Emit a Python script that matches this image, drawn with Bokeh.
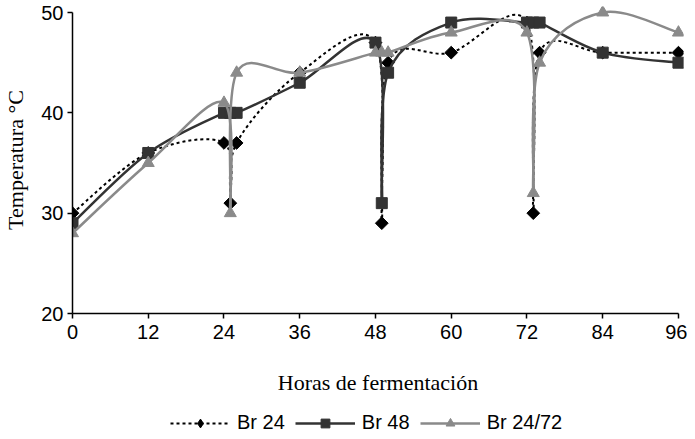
import numpy as np
from bokeh.plotting import figure
from bokeh.layouts import column
from bokeh.models import ColumnDataSource, Legend, LegendItem, FixedTicker, Range1d
from bokeh.embed import file_html
from bokeh.resources import INLINE

# ---- data ----
hours = [0, 12, 24, 25, 26, 36, 48, 49, 50, 60, 72, 73, 74, 84, 96]
br24 = [30, 36, 37, 31, 37, 44, 47, 29, 45, 46, 49, 30, 46, 46, 46]
br48 = [29, 36, 40, 40, 40, 43, 47, 31, 44, 49, 49, 49, 49, 46, 45]
br2472 = [28, 35, 41, 30, 44, 44, 46, 46, 46, 48, 48, 32, 45, 50, 48]
series_names = ["Br 24", "Br 48", "Br 24/72"]
x_ticks = [0, 12, 24, 36, 48, 60, 72, 84, 96]
y_ticks = [20, 30, 40, 50]


def smooth_segments(xs, ys):
    """Bezier control points (Excel-like smoothed line) for consecutive points."""
    n = len(xs)
    d = dict(x0=[], y0=[], x1=[], y1=[], cx0=[], cy0=[], cx1=[], cy1=[])
    for i in range(n - 1):
        xm, ym = (xs[i - 1], ys[i - 1]) if i > 0 else (xs[i], ys[i])
        xp, yp = (xs[i + 2], ys[i + 2]) if i + 2 < n else (xs[i + 1], ys[i + 1])
        d["x0"].append(xs[i]); d["y0"].append(ys[i])
        d["x1"].append(xs[i + 1]); d["y1"].append(ys[i + 1])
        d["cx0"].append(xs[i] + (xs[i + 1] - xm) / 6.0)
        d["cy0"].append(ys[i] + (ys[i + 1] - ym) / 6.0)
        d["cx1"].append(xs[i + 1] - (xp - xs[i]) / 6.0)
        d["cy1"].append(ys[i + 1] - (yp - ys[i]) / 6.0)
    return ColumnDataSource(d)


p = figure(frame_width=611, frame_height=307, output_backend="svg", toolbar_location=None,
           x_range=Range1d(0, 96.8), y_range=Range1d(20, 50.6),
           min_border_left=0, min_border_right=4, min_border_top=6,
           min_border_bottom=0)
p.outline_line_color = None
p.xgrid.visible = False
p.ygrid.visible = False
p.background_fill_color = "white"

styles = [
    dict(color="#000000", width=2, dash="3 3", marker="square", angle=np.pi / 4, size=9,
         leg_marker="diamond"),
    dict(color="#333333", width=2.5, dash="solid", marker="square", angle=0.0, size=11,
         leg_marker="square"),
    dict(color="#8a8a8a", width=2.5, dash="solid", marker="triangle", angle=0.0, size=12,
         leg_marker="triangle"),
]

# legend-only strip below the chart
lf = figure(width=679, height=44, output_backend="svg", toolbar_location=None,
            x_range=Range1d(0, 1), y_range=Range1d(0, 1),
            x_axis_location=None, y_axis_location=None, min_border=0)
lf.outline_line_color = None
lf.xgrid.visible = False
lf.ygrid.visible = False

items = []
for name, ys, st in zip(series_names, [br24, br48, br2472], styles):
    src = smooth_segments(hours, ys)
    p.bezier(x0="x0", y0="y0", x1="x1", y1="y1", cx0="cx0", cy0="cy0",
             cx1="cx1", cy1="cy1", source=src, line_color=st["color"],
             line_width=st["width"], line_dash=st["dash"])
    p.scatter(x=hours, y=ys, marker=st["marker"], size=st["size"],
              angle=st["angle"], fill_color=st["color"], line_color=st["color"])
    # legend keys (drawn outside the visible range of the strip)
    l_line = lf.line(x=[-5, -4], y=[-5, -5], line_color=st["color"],
                     line_width=st["width"], line_dash=st["dash"])
    l_pts = lf.scatter(x=[-5], y=[-5], marker=st["leg_marker"], size=st["size"],
                       fill_color=st["color"], line_color=st["color"])
    items.append(LegendItem(label=name, renderers=[l_line, l_pts]))

# axes
for ax in (p.xaxis[0], p.yaxis[0]):
    ax.axis_line_color = "black"
    ax.axis_line_width = 1.5
    ax.major_tick_line_color = "black"
    ax.major_tick_line_width = 1.5
    ax.major_tick_in = 0
    ax.major_tick_out = 5
    ax.minor_tick_line_color = None
    ax.major_label_text_font = "Liberation Sans"
    ax.major_label_text_font_size = "20px"
    ax.major_label_text_color = "black"
    ax.axis_label_text_font = "Liberation Serif"
    ax.axis_label_text_font_size = "22px"
    ax.axis_label_text_font_style = "normal"
    ax.axis_label_text_color = "black"

p.xaxis.ticker = FixedTicker(ticks=x_ticks)
p.yaxis.ticker = FixedTicker(ticks=y_ticks)
p.xaxis.bounds = (0, 96)
p.yaxis.bounds = (20, 50)
p.xaxis.axis_label = "Horas de fermentación"
p.yaxis.axis_label = "Temperatura °C"
p.xaxis.major_label_standoff = 6
p.yaxis.major_label_standoff = 4
p.xaxis.axis_label_standoff = 28
p.yaxis.axis_label_standoff = 10

legend = Legend(items=items, orientation="horizontal", location=(98, 7),
                label_text_font="Liberation Sans", label_text_font_size="20px",
                label_text_color="black", glyph_width=60, glyph_height=22,
                label_standoff=7, spacing=10, padding=0, margin=0,
                border_line_color=None, background_fill_alpha=0)
lf.add_layout(legend, "center")

layout = column(p, lf, spacing=0)
open("out.html", "w").write(file_html(layout, INLINE))
